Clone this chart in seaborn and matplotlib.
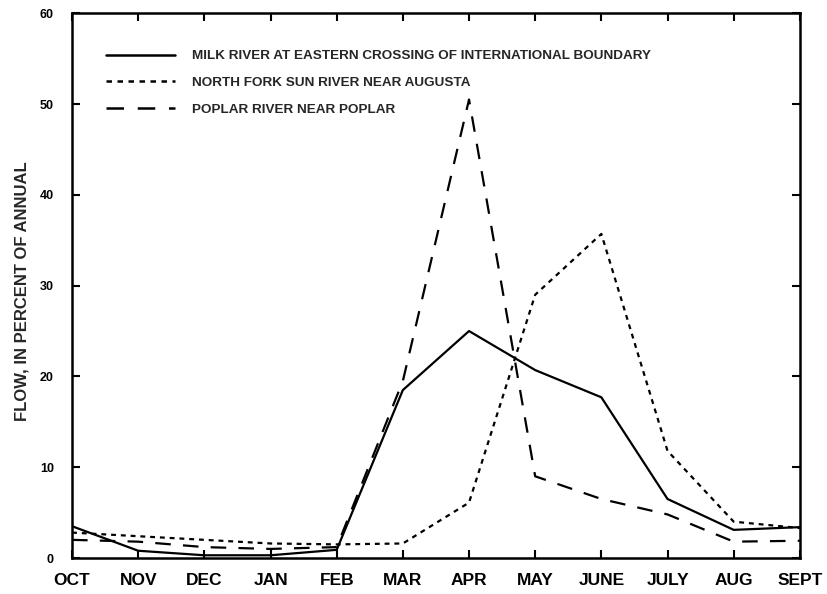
import pandas as pd
import matplotlib
matplotlib.use("Agg")
import matplotlib.pyplot as plt
import seaborn as sns

months = ['OCT', 'NOV', 'DEC', 'JAN', 'FEB', 'MAR', 'APR', 'MAY', 'JUNE', 'JULY', 'AUG', 'SEPT']
milk = [3.5, 0.8, 0.3, 0.3, 0.9, 18.5, 25.0, 20.7, 17.7, 6.5, 3.1, 3.4]
sun = [2.8, 2.4, 2.0, 1.6, 1.5, 1.6, 6.1, 29.0, 35.7, 11.8, 4.0, 3.3]
poplar = [2.0, 1.8, 1.2, 1.0, 1.2, 19.5, 50.5, 9.0, 6.5, 4.8, 1.8, 1.9]

names = ['MILK RIVER AT EASTERN CROSSING OF INTERNATIONAL BOUNDARY',
         'NORTH FORK SUN RIVER NEAR AUGUSTA',
         'POPLAR RIVER NEAR POPLAR']

sns.set_style("white")
plt.rcParams['font.family'] = ['Liberation Sans', 'DejaVu Sans']

fig = plt.figure(figsize=(8.28, 5.94), dpi=100)
ax = fig.add_axes([0.087, 0.0606, 0.879, 0.917])

x = list(range(len(months)))
sns.lineplot(x=x, y=milk, ax=ax, color='black', lw=1.6, label=names[0])
sns.lineplot(x=x, y=sun, ax=ax, color='black', lw=1.6, label=names[1]).lines[-1].set_dashes((2.2, 2.2))
sns.lineplot(x=x, y=poplar, ax=ax, color='black', lw=1.6, label=names[2]).lines[-1].set_dashes((7, 5.5))

ax.set_xlim(0, 11)
ax.set_ylim(0, 60)
ax.set_xticks(x)
ax.set_xticklabels(months, fontsize=12.5, fontweight='bold')
ax.set_yticks(range(0, 61, 10))
ax.set_yticklabels([str(v) for v in range(0, 61, 10)], fontsize=9, fontweight='bold')
ax.set_ylabel('FLOW, IN PERCENT OF ANNUAL', fontsize=12, fontweight='bold')
ax.yaxis.set_label_coords(-0.059, 0.49)
ax.tick_params(axis='both', direction='in', length=6, width=1.5, top=True, right=True,
               left=True, bottom=True, colors='black')
ax.tick_params(axis='x', pad=11)
ax.tick_params(axis='y', pad=13)
for s in ax.spines.values():
    s.set_color('black')
    s.set_linewidth(1.8)

leg = ax.legend(loc='upper left', bbox_to_anchor=(0.03, 0.955), frameon=False,
                handlelength=5.1, handletextpad=1.3, labelspacing=1.05,
                prop={'size': 9.7, 'weight': 'bold'})
for h in leg.get_lines():
    h.set_linewidth(1.8)

fig.savefig('out.png', dpi=100)
